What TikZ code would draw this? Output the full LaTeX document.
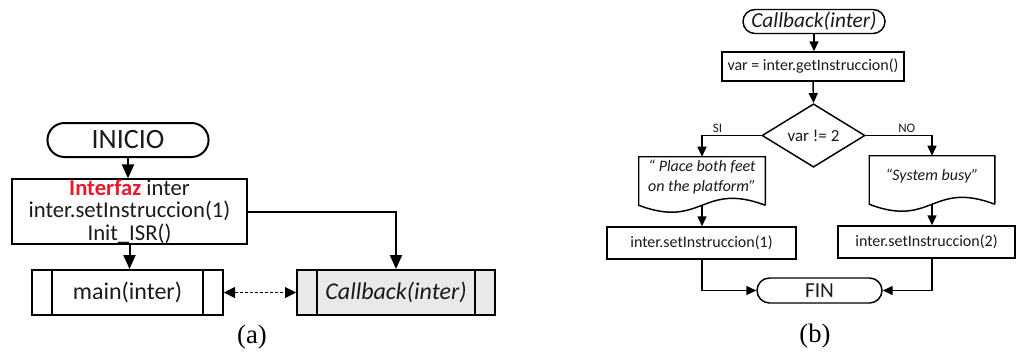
\documentclass[tikz,border=0pt]{standalone}
\usepackage{fontspec}
\setmainfont{Carlito}
\newfontfamily\capfont{Liberation Serif}
\usepackage{tikz}
\usetikzlibrary{shapes.geometric,shapes.misc,arrows.meta,calc}

\definecolor{kwred}{HTML}{E8192C}
\definecolor{subgray}{HTML}{E9E9E9}
\definecolor{inkgray}{HTML}{1A1A1A}

% one unit of the drawing
\newlength\pix
\setlength\pix{0.75pt}

% document symbol: box with a wavy bottom, wave centre named #1-b
\newcommand{\docsym}[1]{%
  \coordinate (#1-b) at ($(#1.south)+(0,8)$);
  \draw[flowline] ($(#1.south east)+(0,8)$) -- (#1.north east) -- (#1.north west)
    -- ($(#1.south west)+(0,8)$)
    .. controls ($(#1-b)+(0,24)$) and ($(#1-b)+(0,-24)$) .. ($(#1.south east)+(0,8)$);
}

\begin{document}
\begin{tikzpicture}[x=0.75pt, y=-0.75pt,
    every node/.style={text=inkgray},
    flowline/.style={draw=black, line width=1.1pt},
    boldline/.style={draw=black, line width=1.5pt},
    termA/.style={rounded rectangle, boldline, font=\fontsize{21}{21}\selectfont},
    procA/.style={rectangle, boldline, inner sep=0pt, align=center,
      font=\fontsize{18}{18}\selectfont},
    subA/.style={procA, minimum width=191\pix, minimum height=45\pix,
      path picture={
        \draw[line width=1.5pt]
          ([xshift=15pt]path picture bounding box.north west) -- ([xshift=15pt]path picture bounding box.south west)
          ([xshift=-15pt]path picture bounding box.north east) -- ([xshift=-15pt]path picture bounding box.south east);
      }},
    flowA/.style={boldline, -{Triangle[length=10.5pt,width=9pt]}},
    linkA/.style={draw=black, line width=0.8pt, dash pattern=on 2.25pt off 1.5pt,
      {Triangle[length=8.25pt,width=8.25pt]}-{Triangle[length=8.25pt,width=8.25pt]}},
    termB/.style={rounded rectangle, flowline, inner sep=0pt, font=\fontsize{16}{16}\selectfont},
    procB/.style={rectangle, flowline, inner sep=0pt, minimum height=32\pix,
      font=\fontsize{12}{12}\selectfont},
    decB/.style={diamond, flowline, inner sep=0pt, minimum width=103\pix,
      minimum height=62\pix, font=\fontsize{12.75}{12.75}\selectfont},
    docB/.style={rectangle, inner sep=0pt, minimum height=40\pix, align=center,
      font=\fontsize{12}{15.5}\selectfont\itshape},
    flowB/.style={flowline, -{Triangle[length=7.5pt,width=6.75pt]}},
    lbl/.style={font=\fontsize{9.75}{9.75}\selectfont, inner sep=2pt},
    capt/.style={font=\capfont\fontsize{20}{20}\selectfont, text=black}
  ]
  \useasboundingbox (0,0) rectangle (1017,351);

  % ---- (a) main program ----
  \node[termA, minimum width=170\pix, minimum height=34\pix] (inicio) at (128,140) {INICIO};
  \node[procA, minimum width=235\pix, minimum height=58\pix,
    font=\fontsize{17}{17}\selectfont] (init) at (129.5,211.5)
    {\textcolor{kwred}{\bfseries Interfaz} inter\\inter.setInstruccion(1)\\Init\_ISR()};
  \node[subA] (mainsub) at (127.5,292.5) {main(inter)};
  \node[subA, fill=subgray, minimum width=198\pix] (cbsub) at (396,292.5) {\itshape Callback(inter)};
  \node[capt] (capa) at (252,337) {(a)};

  \draw[flowA] (inicio.south) -- (inicio.south |- init.north);
  \draw[flowA] (init.south) -- (init.south |- mainsub.north);
  \draw[flowA] (init.east) -| (cbsub.north);
  \draw[linkA] (mainsub.east) -- (cbsub.west);

  % ---- (b) callback ----
  \node[termB, minimum width=142\pix, minimum height=24\pix] (cbstart) at (814,21.5) {\itshape Callback(inter)};
  \node[procB, minimum width=182\pix, minimum height=29\pix] (getvar) at (813,66.5) {var = inter.getInstruccion()};
  \node[decB] (check) at (813.5,135.5) {var != 2};
  \node[docB, minimum width=126\pix] (msgsi) at (702,177) {“ Place both feet\\on the platform”};
  \node[docB, minimum width=125\pix] (msgno) at (932,176) {“System busy”};
  \docsym{msgsi}
  \docsym{msgno}
  \node[procB, minimum width=189\pix] (setone) at (701.5,243) {inter.setInstruccion(1)};
  \node[procB, minimum width=177\pix] (settwo) at (926.5,242) {inter.setInstruccion(2)};
  \node[termB, minimum width=125\pix, minimum height=25\pix] (fin) at (819.5,290.5) {FIN};
  \node[capt] (capb) at (815,336) {(b)};

  \draw[flowB] (cbstart.south) -- (cbstart.south |- getvar.north);
  \draw[flowB] (getvar.south) -- (check.north);
  \draw[flowB] (check.west) -| (msgsi.north) node[pos=0.37, above, lbl] {SI};
  \draw[flowB] (check.east) -| (msgno.north) node[pos=0.31, above, lbl] {NO};
  \draw[flowB] (msgsi-b) -- (msgsi-b |- setone.north);
  \draw[flowB] (msgno-b) -- (msgno-b |- settwo.north);
  \draw[flowB] (msgsi-b |- setone.south) |- (fin.west);
  \draw[flowB] (msgno-b |- settwo.south) |- (fin.east);
\end{tikzpicture}
\end{document}
